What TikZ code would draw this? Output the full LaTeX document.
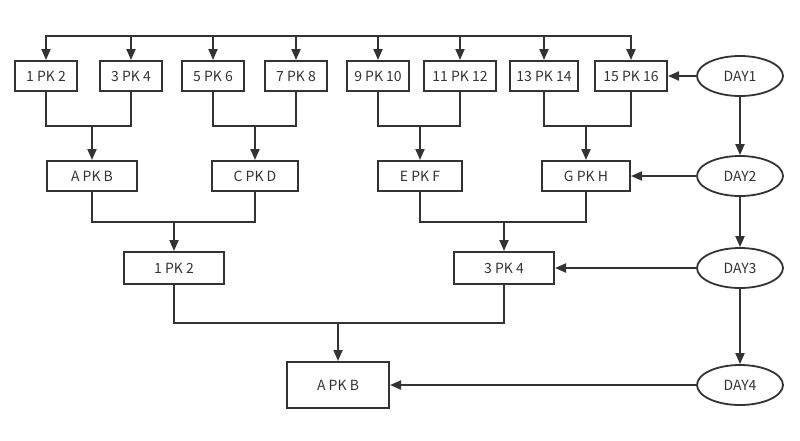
\documentclass[tikz,border=0pt]{standalone}
\usepackage{fontspec}
\setmainfont{Noto Sans CJK SC}
\usetikzlibrary{arrows.meta,shapes.geometric}
\definecolor{ink}{HTML}{333333}
\tikzset{
  box/.style={draw=ink, line width=2pt, text=ink, inner sep=0pt, rectangle, font=\fontsize{14}{16}\selectfont},
  day/.style={draw=ink, line width=1.8pt, text=ink, inner sep=0pt, ellipse, minimum width=86pt, minimum height=40pt, font=\fontsize{14}{16}\selectfont},
  wire/.style={draw=ink, line width=2pt},
  arr/.style={wire, -{Triangle[length=11pt,width=9pt]}}
}
\begin{document}
\begin{tikzpicture}[x=1pt,y=-1pt]
\useasboundingbox (0,0) rectangle (800,440);
% top row
\node[box, minimum width=62pt, minimum height=30pt] (t1) at (46,76) {1 PK 2};
\node[box, minimum width=62pt, minimum height=30pt] (t2) at (131,76) {3 PK 4};
\node[box, minimum width=62pt, minimum height=30pt] (t3) at (213,76) {5 PK 6};
\node[box, minimum width=62pt, minimum height=30pt] (t4) at (296,76) {7 PK 8};
\node[box, minimum width=62pt, minimum height=30pt] (t5) at (378,76) {9 PK 10};
\node[box, minimum width=72pt, minimum height=30pt] (t6) at (460,76) {11 PK 12};
\node[box, minimum width=68pt, minimum height=30pt] (t7) at (544,76) {13 PK 14};
\node[box, minimum width=72pt, minimum height=30pt] (t8) at (631,76) {15 PK 16};
% level 2
\node[box, minimum width=90pt, minimum height=30pt] (m1) at (92,176) {A PK B};
\node[box, minimum width=86pt, minimum height=30pt] (m2) at (255,176) {C PK D};
\node[box, minimum width=84pt, minimum height=30pt] (m3) at (420,176) {E PK F};
\node[box, minimum width=88pt, minimum height=30pt] (m4) at (586,176) {G PK H};
% level 3
\node[box, minimum width=100pt, minimum height=32pt] (b1) at (174,268) {1 PK 2};
\node[box, minimum width=100pt, minimum height=32pt] (b2) at (504,268) {3 PK 4};
% final
\node[box, minimum width=102pt, minimum height=46pt] (f) at (338,385) {A PK B};
% days
\node[day] (d1) at (740,76) {DAY1};
\node[day] (d2) at (740,176) {DAY2};
\node[day] (d3) at (740,268) {DAY3};
\node[day] (d4) at (740,385) {DAY4};
% bus
\coordinate (bus) at (213,36);
\foreach \n in {t1,t2,t3,t4,t5,t6,t7,t8} \draw[arr] (bus) -| (\n);
% level 1 -> level 2
\coordinate (j1) at (92,126);
\coordinate (j2) at (255,126);
\coordinate (j3) at (420,126);
\coordinate (j4) at (586,126);
\draw[wire] (t1) -- (t1 |- j1) -| (t2);
\draw[wire] (t3) -- (t3 |- j2) -| (t4);
\draw[wire] (t5) -- (t5 |- j3) -| (t6);
\draw[wire] (t7) -- (t7 |- j4) -| (t8);
\draw[arr] (j1) -- (m1);
\draw[arr] (j2) -- (m2);
\draw[arr] (j3) -- (m3);
\draw[arr] (j4) -- (m4);
% level 2 -> level 3
\coordinate (k1) at (174,222);
\coordinate (k2) at (504,222);
\draw[wire] (m1) -- (m1 |- k1) -| (m2);
\draw[wire] (m3) -- (m3 |- k2) -| (m4);
\draw[arr] (k1) -- (b1);
\draw[arr] (k2) -- (b2);
% level 3 -> final
\coordinate (k3) at (338,323);
\draw[wire] (b1) -- (b1 |- k3) -| (b2);
\draw[arr] (k3) -- (f);
% days
\draw[arr] (d1) -- (t8);
\draw[arr] (d1) -- (d2);
\draw[arr] (d2) -- (m4);
\draw[arr] (d2) -- (d3);
\draw[arr] (d3) -- (b2);
\draw[arr] (d3) -- (d4);
\draw[arr] (d4) -- (f);
\end{tikzpicture}
\end{document}
